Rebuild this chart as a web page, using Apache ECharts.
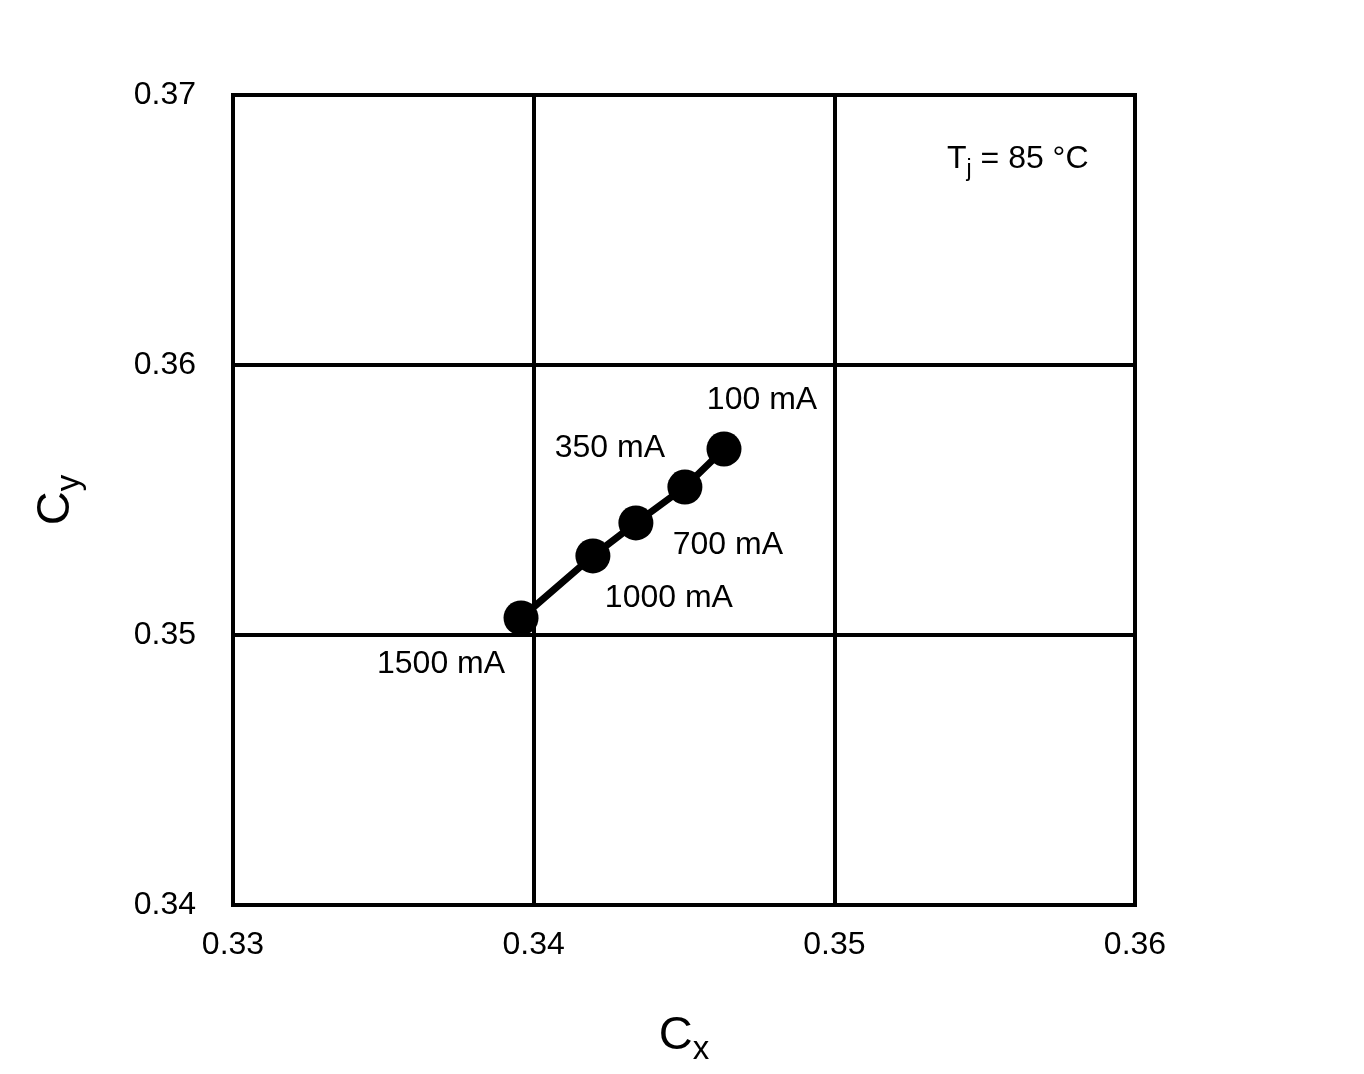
<!DOCTYPE html>
<html>
<head>
<meta charset="utf-8">
<script src="https://cdn.jsdelivr.net/npm/echarts@6/dist/echarts.min.js"></script>
<style>html,body{margin:0;padding:0;background:#fff}#c{width:1364px;height:1074px}</style>
</head>
<body>
<div id="c"></div>
<script>
const currents = ['100 mA', '350 mA', '700 mA', '1000 mA', '1500 mA'];
const cxValues = [0.34633, 0.34503, 0.3434, 0.34197, 0.33958];
const cyValues = [0.35689, 0.35548, 0.35415, 0.35293, 0.35063];
const xTicks = [0.33, 0.34, 0.35, 0.36];
const yTicks = [0.34, 0.35, 0.36, 0.37];

const labelOffsets = [[38, -49], [-75, -39], [92, 22], [76, 42], [-80, 46]];

const chart = echarts.init(document.getElementById('c'));
const font = 'Liberation Sans, Arial, sans-serif';
chart.setOption({
  animation: false,
  grid: { left: 233, right: 229, top: 95, bottom: 169, show: true, borderColor: '#000', borderWidth: 4 },
  xAxis: {
    type: 'value', min: xTicks[0], max: xTicks[xTicks.length - 1], interval: 0.01,
    axisLine: { show: false }, axisTick: { show: false },
    splitLine: { lineStyle: { color: '#000', width: 4 } },
    axisLabel: { color: '#000', fontSize: 32, fontFamily: font, margin: 24, formatter: v => v.toFixed(2) },
    name: '{a|C}{b|x}', nameLocation: 'middle', nameGap: 102,
    nameTextStyle: { rich: {
      a: { fontSize: 47, fontFamily: font, color: '#000' },
      b: { fontSize: 33, fontFamily: font, color: '#000', padding: [26, 0, 0, 0] }
    } }
  },
  yAxis: {
    type: 'value', min: yTicks[0], max: yTicks[yTicks.length - 1], interval: 0.01,
    axisLine: { show: false }, axisTick: { show: false },
    splitLine: { lineStyle: { color: '#000', width: 4 } },
    axisLabel: { color: '#000', fontSize: 32, fontFamily: font, margin: 37, formatter: v => v.toFixed(2) },
    name: '{a|C}{b|y}', nameLocation: 'middle', nameGap: 147,
    nameTextStyle: { rich: {
      a: { fontSize: 47, fontFamily: font, color: '#000' },
      b: { fontSize: 33, fontFamily: font, color: '#000', padding: [26, 0, 0, 0] }
    } }
  },
  graphic: [{
    type: 'text', left: 947, top: 143,
    style: {
      text: '{t|T}{s|j}{t| = 85 °C}',
      rich: {
        t: { fontSize: 32, fontFamily: font, fill: '#000' },
        s: { fontSize: 23, fontFamily: font, fill: '#000', padding: [22, 0, 0, 0] }
      }
    }
  }],
  series: [{
    type: 'line',
    data: cxValues.map((x, i) => ({
      value: [x, cyValues[i]],
      name: currents[i],
      label: { show: true, position: 'inside', offset: labelOffsets[i], formatter: currents[i] }
    })),
    symbol: 'circle', symbolSize: 35,
    lineStyle: { color: '#000', width: 7 },
    itemStyle: { color: '#000' },
    label: { color: '#000', fontSize: 32, fontFamily: font },
    z: 5
  }]
});
</script>
</body>
</html>
